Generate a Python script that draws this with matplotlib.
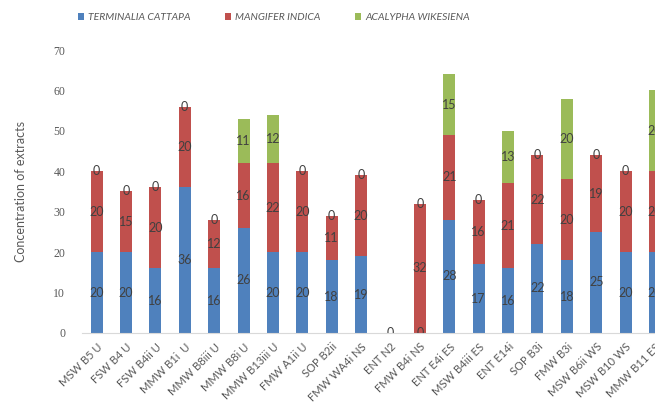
import matplotlib.pyplot as plt
import numpy as np

plt.rcParams['font.family'] = ['Lato', 'DejaVu Sans']

# datos
muestras = ['MSW B5 U', 'FSW B4 U', 'FSW B4ii U', 'MMW B1i  U', 'MMW B8iii U',
            'MMW B8i U', 'MMW B13iii U', 'FMW A1ii U', 'SOP B2ii', 'FMW WA4i NS',
            'ENT N2', 'FMW B4i NS', 'ENT E4i ES', 'MSW B4iii ES', 'ENT E14i',
            'SOP B3i', 'FMW B3i', 'MSW B6ii WS', 'MSW B10 WS', 'MMW B11 ES']
terminalia = [20, 20, 16, 36, 16, 26, 20, 20, 18, 19, 0, 0, 28, 17, 16, 22, 18, 25, 20, 20]
mangifer = [20, 15, 20, 20, 12, 16, 22, 20, 11, 20, 0, 32, 21, 16, 21, 22, 20, 19, 20, 20]
acalypha = [0, 0, 0, 0, 0, 11, 12, 0, 0, 0, 0, 0, 15, 0, 13, 0, 20, 0, 0, 20]

azul = '#4F81BD'
rojo = '#C0504D'
verde = '#9BBB59'
gris = '#595959'

fig = plt.figure(figsize=(6.55, 4.07), dpi=100)
ax = fig.add_axes([0.125, 0.182, 0.875, 0.695])

x = np.arange(len(muestras))
t = np.array(terminalia)
m = np.array(mangifer)
a = np.array(acalypha)
ancho = 0.41

ax.bar(x, t, ancho, color=azul, label='TERMINALIA CATTAPA')
ax.bar(x, m, ancho, bottom=t, color=rojo, label='MANGIFER INDICA')
ax.bar(x, a, ancho, bottom=t + m, color=verde, label='ACALYPHA WIKESIENA')

# etiquetas de valores
for serie, base in [(t, 0 * t), (m, t), (a, t + m)]:
    for i in range(len(x)):
        if serie[i] == 0 and base[i] == 0 and serie is not t:
            continue
        ax.text(x[i], base[i] + serie[i] / 2, str(serie[i]), ha='center', va='center',
                fontsize=9, color='#404040', clip_on=True)

ax.set_xlim(-0.5, 18.98)
ax.set_ylim(0, 70)
ax.set_yticks(range(0, 71, 10))
ax.set_yticklabels([str(v) for v in range(0, 71, 10)], family='Liberation Serif')
ax.tick_params(axis='y', length=0, labelsize=8.5, labelcolor=gris, pad=12)
ax.set_xticks(x)
ax.set_xticklabels(muestras, rotation=45, ha='right', rotation_mode='anchor')
ax.tick_params(axis='x', length=0, labelsize=8, labelcolor=gris, pad=6)
ax.set_ylabel('Concentration of extracts', fontsize=9, color=gris, labelpad=19)

for s in ['top', 'right', 'left']:
    ax.spines[s].set_visible(False)
ax.spines['bottom'].set_color('#D9D9D9')

leg = fig.legend(loc='upper center', bbox_to_anchor=(0.418, 0.99), ncol=3, frameon=False,
                 fontsize=7.5, handlelength=0.6, handleheight=0.6, columnspacing=3.3,
                 handletextpad=0.4)
for txt in leg.get_texts():
    txt.set_style('italic')
    txt.set_color(gris)

plt.savefig('out.png', dpi=100)
